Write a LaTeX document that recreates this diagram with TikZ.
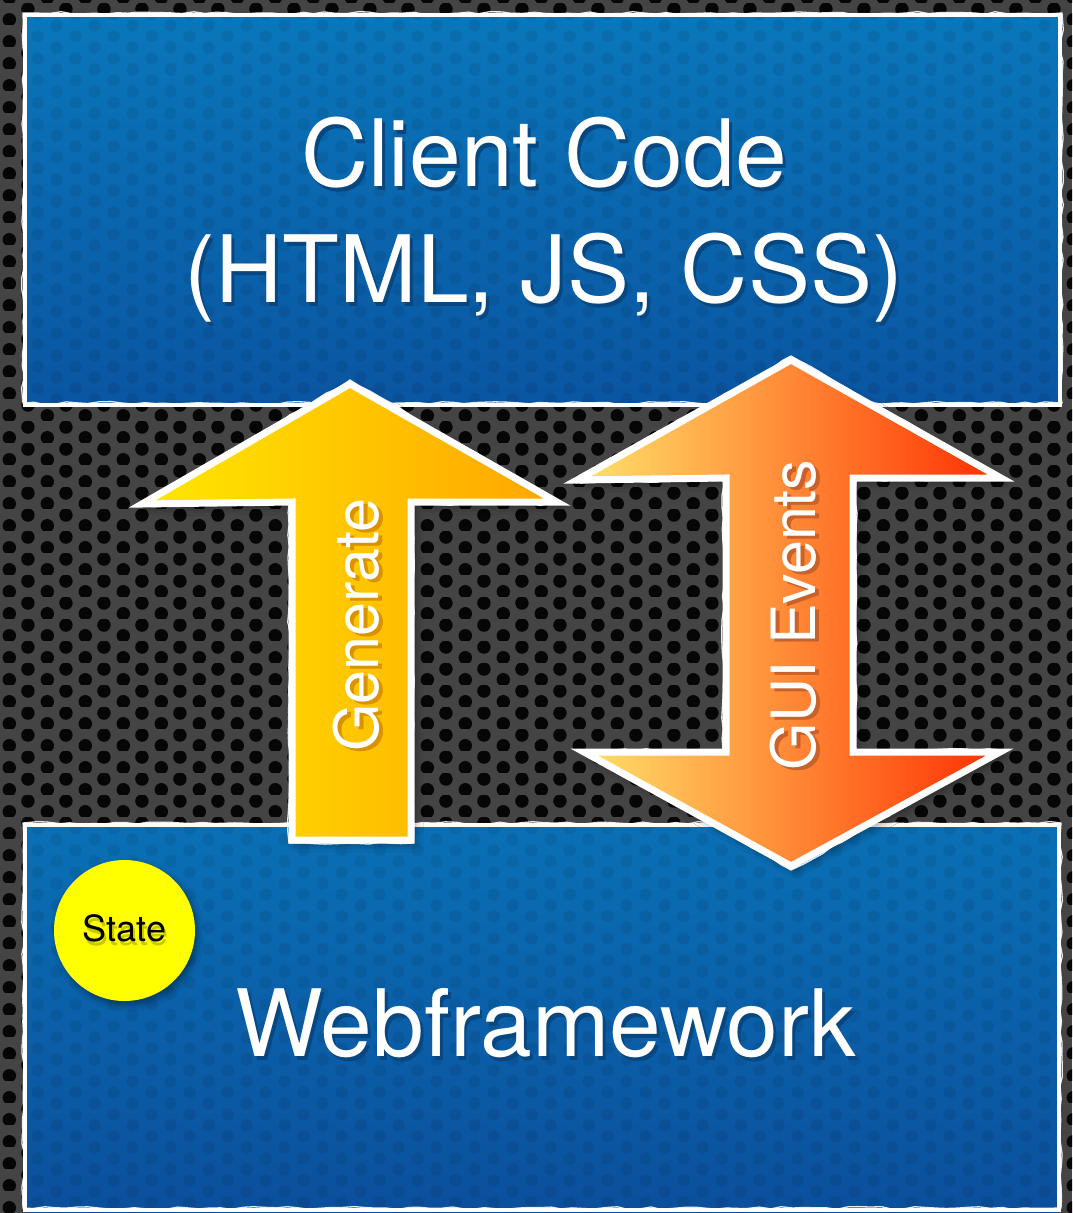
\documentclass[tikz,border=0pt]{standalone}
\usepackage{fontspec}
\setmainfont{TeX Gyre Heros}
\usetikzlibrary{decorations.pathmorphing,shadows.blur,patterns}

\definecolor{metal}{HTML}{444444}
\definecolor{hole}{HTML}{060606}
\definecolor{boxtopA}{HTML}{0A77BB}
\definecolor{boxtopB}{HTML}{0A55A1}
\definecolor{boxbotA}{HTML}{0A70B5}
\definecolor{boxbotB}{HTML}{0B4F9C}
\definecolor{genL}{HTML}{FFE800}
\definecolor{genR}{HTML}{FFA500}
\definecolor{guiL}{HTML}{FFE46C}
\definecolor{guiM}{HTML}{FF9A45}
\definecolor{guiR}{HTML}{FF2E00}
\definecolor{statefill}{HTML}{FFFF00}
\definecolor{blueshade}{HTML}{07467F}
\definecolor{genshade}{HTML}{D99200}
\definecolor{guishade}{HTML}{C9622A}
\definecolor{stateshade}{HTML}{C8C800}

% text with a dropped shadow: colour, x shift, y shift, text
\newcommand\withshadow[4]{%
  \makebox[0pt][l]{\hspace*{#2}\raisebox{#3}{\color{#1}#4}}#4}

% staggered holes of a perforated metal sheet
\pgfdeclarepatternformonly{perforation}{\pgfpointorigin}{\pgfpoint{37.6pt}{21.6pt}}{\pgfpoint{37.6pt}{21.6pt}}{
  \pgfpathcircle{\pgfpoint{9.4pt}{5.4pt}}{6.8pt}
  \pgfpathcircle{\pgfpoint{28.2pt}{16.2pt}}{6.8pt}
  \pgfusepath{fill}}
\pgfdeclarepatternformonly{panelholes}{\pgfpointorigin}{\pgfpoint{37.6pt}{21.6pt}}{\pgfpoint{37.6pt}{21.6pt}}{
  \pgfpathcircle{\pgfpoint{18.8pt}{0pt}}{6pt}
  \pgfpathcircle{\pgfpoint{0pt}{10.8pt}}{6pt}
  \pgfpathcircle{\pgfpoint{37.6pt}{10.8pt}}{6pt}
  \pgfpathcircle{\pgfpoint{18.8pt}{21.6pt}}{6pt}
  \pgfusepath{fill}}

\tikzset{
  paneledge/.style={draw=white, line width=4},
  wisp/.style={draw=white, line width=1.3, opacity=0.9, decorate,
    decoration={random steps, segment length=11, amplitude=1.4}},
  arrowbody/.style={draw=white, line width=7, line join=miter,
    blur shadow={shadow xshift=4pt, shadow yshift=-4pt,
      shadow blur radius=8pt, shadow opacity=45}},
  bigtext/.style={text=white, font=\fontsize{93}{110}\selectfont, inner sep=0pt},
  arrowtext/.style={text=white, font=\fontsize{61}{72}\selectfont, inner sep=0pt, rotate=90},
  statecircle/.style={circle, fill=statefill, minimum size=141, inner sep=0pt,
    font=\fontsize{36}{40}\selectfont, text=black,
    blur shadow={shadow xshift=3pt, shadow yshift=-4pt,
      shadow blur radius=6pt, shadow opacity=40}},
}

\begin{document}
\begin{tikzpicture}[x=1pt,y=-1pt]
\pgfmathsetseed{7}
\useasboundingbox (0,0) rectangle (1072,1213);

% perforated metal background
\fill[metal] (0,0) rectangle (1072,1213);
\fill[pattern=perforation, pattern color=hole] (0,0) rectangle (1072,1213);

% blue panels
\shade[top color=boxtopA, bottom color=boxtopB] (25,15) rectangle (1060,405);
\shade[top color=boxbotA, bottom color=boxbotB] (25,825) rectangle (1059,1213);
\fill[pattern=panelholes, pattern color=black, fill opacity=0.07]
  (25,15) rectangle (1060,405) (25,825) rectangle (1059,1213);
\draw[paneledge] (25,15) rectangle (1060,405);
\draw[wisp] (23,13) rectangle (1062,403);
\draw[paneledge] (25,825) rectangle (1059,1210);
\draw[wisp] (23,823) rectangle (1061,1208);

% Generate arrow
\path[arrowbody, left color=genL, right color=genR]
  (350,384) -- (557,502) -- (411,502) -- (411,840) -- (292,840)
  -- (292,502) -- (142,504) -- cycle;
\draw[wisp] (350,380) -- (561,504) -- (413,504) -- (413,843) -- (289,843)
  -- (289,504) -- (138,506) -- cycle;

% GUI Events double arrow
\path[arrowbody, left color=guiL, middle color=guiM, right color=guiR]
  (791,360) -- (1001,478) -- (853,478) -- (853,752) -- (1000,752)
  -- (791,866) -- (584,752) -- (726,752) -- (726,478) -- (577,480) -- cycle;
\draw[wisp] (791,356) -- (1005,480) -- (856,480) -- (856,750) -- (1004,750)
  -- (791,870) -- (580,750) -- (723,750) -- (723,480) -- (573,482) -- cycle;

% labels
\node[bigtext, anchor=base] (client) at (544,186)
  {\withshadow{blueshade}{3pt}{-4pt}{Client Code}};
\node[bigtext, anchor=base] (tech) at (544,302)
  {\withshadow{blueshade}{3pt}{-4pt}{(HTML, JS, CSS)}};
\node[bigtext, anchor=base] (web) at (546,1056)
  {\withshadow{blueshade}{3pt}{-4pt}{Webframework}};

\node[arrowtext, anchor=base] (gen) at (378,625)
  {\withshadow{genshade}{-3pt}{-4pt}{Generate}};
\node[arrowtext, anchor=base] (gui) at (815,615)
  {\withshadow{guishade}{-3pt}{-4pt}{GUI Events}};

% state marker
\node[statecircle] (state) at (124.5,930.5)
  {\withshadow{stateshade}{2pt}{-4pt}{State}};
\end{tikzpicture}
\end{document}
